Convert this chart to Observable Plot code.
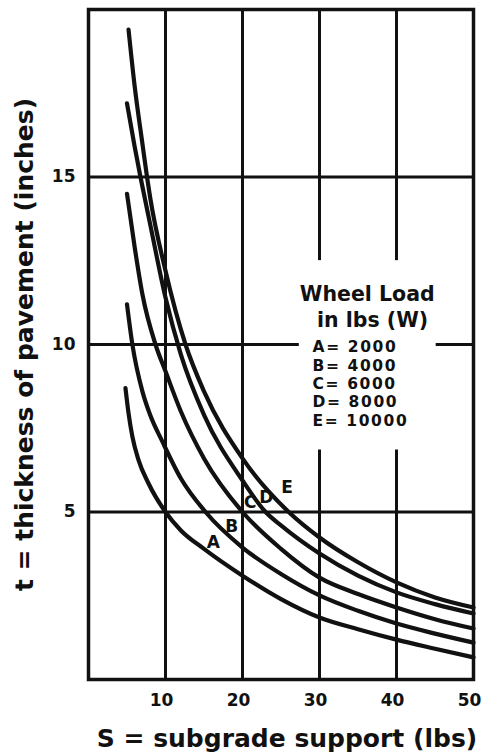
<!DOCTYPE html>
<html><head><meta charset="utf-8">
<script src="https://cdn.jsdelivr.net/npm/d3@7"></script>
<script src="https://cdn.jsdelivr.net/npm/@observablehq/plot@0.6"></script>
<style>
html,body{margin:0;padding:0;background:#fff;}
</style></head><body><div id="chart"></div>
<script>
// ---- data ----
const curveNames = ["A", "B", "C", "D", "E"];
const wheelLoads = [2000, 4000, 6000, 8000, 10000];

const sA = [4.8, 5.2, 5.7, 6.5, 7.8, 10, 12, 15, 20, 25, 30, 35, 40, 45, 50];
const tA = [8.7, 7.95, 7.25, 6.55, 5.85, 5.0, 4.45, 3.9, 3.1, 2.4, 1.85, 1.5, 1.19, 0.92, 0.66];

const sB = [5, 5.7, 7, 8, 9.6, 12, 15.2, 20, 25, 30, 35, 40, 45, 50];
const tB = [11.2, 10, 8.6, 7.9, 7.1, 6.0, 5.0, 3.94, 3.15, 2.51, 2.05, 1.67, 1.37, 1.10];

const sC = [5, 6, 7, 8.7, 10, 12, 15, 20, 25, 30, 35, 40, 45, 50];
const tC = [14.5, 12.9, 11.5, 10, 9.2, 8.0, 6.6, 5.0, 3.9, 3.04, 2.55, 2.15, 1.8, 1.52];

const sD = [5, 6, 6.75, 8, 10, 12, 15, 20, 23, 25, 30, 35, 40, 45, 50];
const tD = [17.2, 15.9, 15.0, 13.6, 11.4, 9.7, 7.9, 5.94, 5.0, 4.6, 3.76, 3.1, 2.6, 2.25, 1.97];

const sE = [5.2, 6, 7, 7.6, 8, 10, 12.6, 15, 20, 26, 30, 35, 40, 45, 50];
const tE = [19.4, 17.7, 16.0, 15.0, 14.4, 12.2, 10.0, 8.6, 6.6, 5.0, 4.24, 3.5, 2.9, 2.45, 2.15];

const xTicks = [10, 20, 30, 40, 50];
const yTicks = [5, 10, 15];
const xGrid = [10, 20, 30, 40];
const yGrid = [5, 10, 15];

const xTitle = "S = subgrade support (lbs)";
const yTitle = "t = thickness of pavement (inches)";
const legendHead = ["Wheel Load", "in lbs (W)"];

// label anchor points along the curves (S, t)
const labelS = [16.2, 18.6, 21.0, 23.1, 25.8];
const labelT = [4.09, 4.57, 5.28, 5.43, 5.73];

// ---- build table ----
const sAll = [sA, sB, sC, sD, sE];
const tAll = [tA, tB, tC, tD, tE];
const rows = [];
curveNames.forEach((n, i) => sAll[i].forEach((s, j) => rows.push({curve: n, S: s, t: tAll[i][j]})));
const legendRows = curveNames.map((n, i) => `${n}= ${wheelLoads[i]}`);

const ink = "#111";

const chart = Plot.plot({
  width: 484,
  height: 755,
  marginLeft: 88,
  marginRight: 11,
  marginTop: 9,
  marginBottom: 76,
  style: {fontFamily: "'DejaVu Sans', sans-serif", fontWeight: "bold", fontSize: "18px", background: "#fff", color: ink},
  x: {domain: [0, 50], label: null},
  y: {domain: [0, 20], label: null},
  marks: [
    Plot.ruleX(xGrid, {stroke: ink, strokeWidth: 3}),
    Plot.ruleY(yGrid, {stroke: ink, strokeWidth: 3}),
    Plot.frame({stroke: ink, strokeWidth: 3.5}),
    Plot.line(rows, {x: "S", y: "t", z: "curve", stroke: ink, strokeWidth: 4.2, curve: "monotone-x", strokeLinecap: "round"}),
    Plot.text(curveNames, {x: (d, i) => labelS[i], y: (d, i) => labelT[i], text: d => d, fontSize: 17, fill: ink}),
    Plot.text(legendHead, {x: (d, i) => [36.2, 36.9][i], y: (d, i) => [11.49, 10.72][i], text: d => d, fontSize: 20.5, fill: ink}),
    Plot.text(legendRows, {x: 29.1, y: (d, i) => 9.91 - i * 0.545, text: d => d, textAnchor: "start", fontSize: 15.5, fill: ink}),
    Plot.axisX({ticks: xTicks, tickSize: 0, tickPadding: 14, dx: -4, fontSize: 17, label: null}),
    Plot.axisY({ticks: yTicks, tickSize: 0, tickPadding: 13, fontSize: 17, label: null}),
    Plot.text([xTitle], {frameAnchor: "bottom", dx: 6, dy: 67, text: d => d, fontSize: 25, fill: ink}),
    Plot.text([yTitle], {frameAnchor: "left", dx: -64, rotate: -90, textAnchor: "middle", text: d => d, fontSize: 25, fill: ink})
  ]
});
document.getElementById("chart").appendChild(chart);

// widen the legend rows slightly, then blank the grid behind the legend block
(function maskLegend() {
  const svg = chart.tagName.toLowerCase() === "svg" ? chart : chart.querySelector("svg");
  const rowSet = new Set(legendRows);
  const wanted = new Set([...legendHead, ...legendRows]);
  const texts = [...svg.querySelectorAll("text")].filter(t => wanted.has(t.textContent));
  texts.filter(t => rowSet.has(t.textContent)).forEach(t => t.setAttribute("letter-spacing", "1.6"));
  if (!texts.length) return;
  const sb = svg.getBoundingClientRect();
  let x0 = Infinity, y0 = Infinity, x1 = -Infinity, y1 = -Infinity;
  texts.forEach(t => {
    const b = t.getBoundingClientRect();
    x0 = Math.min(x0, b.left - sb.left); y0 = Math.min(y0, b.top - sb.top);
    x1 = Math.max(x1, b.right - sb.left); y1 = Math.max(y1, b.bottom - sb.top);
  });
  let group = texts[0];
  while (group.parentNode && group.parentNode !== svg) group = group.parentNode;
  const r = document.createElementNS("http://www.w3.org/2000/svg", "rect");
  r.setAttribute("x", x0 - 1); r.setAttribute("width", x1 - x0 + 2);
  r.setAttribute("y", y0 - 22); r.setAttribute("height", y1 - y0 + 42);
  r.setAttribute("fill", "#fff");
  svg.insertBefore(r, group);
})();
</script>
</body></html>
